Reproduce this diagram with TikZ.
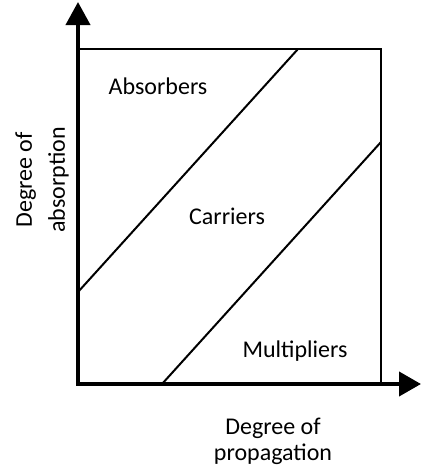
\documentclass[tikz,border=0pt]{standalone}
\usepackage{fontspec}
\setmainfont{Carlito}
\usetikzlibrary{arrows.meta}

\begin{document}
\begin{tikzpicture}[x=1pt,y=-1pt,
  axis/.style={line width=4pt,{Triangle[length=23pt,width=24pt]}-{Triangle[length=22pt,width=24pt]}},
  edge/.style={line width=2pt},
  lbl/.style={font=\fontsize{24}{26}\selectfont,inner sep=0pt,align=center}]
\useasboundingbox (0,0) rectangle (423,471);
% axes and frame
\coordinate (ytip) at (78,2);
\coordinate (orig) at (78,384);
\coordinate (xtip) at (421,384);
\coordinate (tl) at (78,49);
\coordinate (tr) at (381,49);
\coordinate (br) at (381,384);
% the two borders
\coordinate (abs1) at (78,292);
\coordinate (abs2) at (298,49);
\coordinate (mul1) at (162,384);
\coordinate (mul2) at (381,142);
\draw[edge] (tl) -- (tr) -- (br);
\draw[edge] (abs1) -- (abs2);
\draw[edge] (mul1) -- (mul2);
\draw[axis] (ytip) -- (orig) -- (xtip);
% zones
\node[lbl] (absorbers) at (158,86) {Absorbers};
\node[lbl] (carriers) at (227,216) {Carriers};
\node[lbl] (multipliers) at (295,351) {Multipliers};
% axis titles
\node[lbl,font=\fontsize{24}{33}\selectfont,rotate=90] (ytitle) at (42,180) {Degree of\\absorption};
\node[lbl] (xtitle) at (273,441) {Degree of\\propagation};
\end{tikzpicture}
\end{document}
